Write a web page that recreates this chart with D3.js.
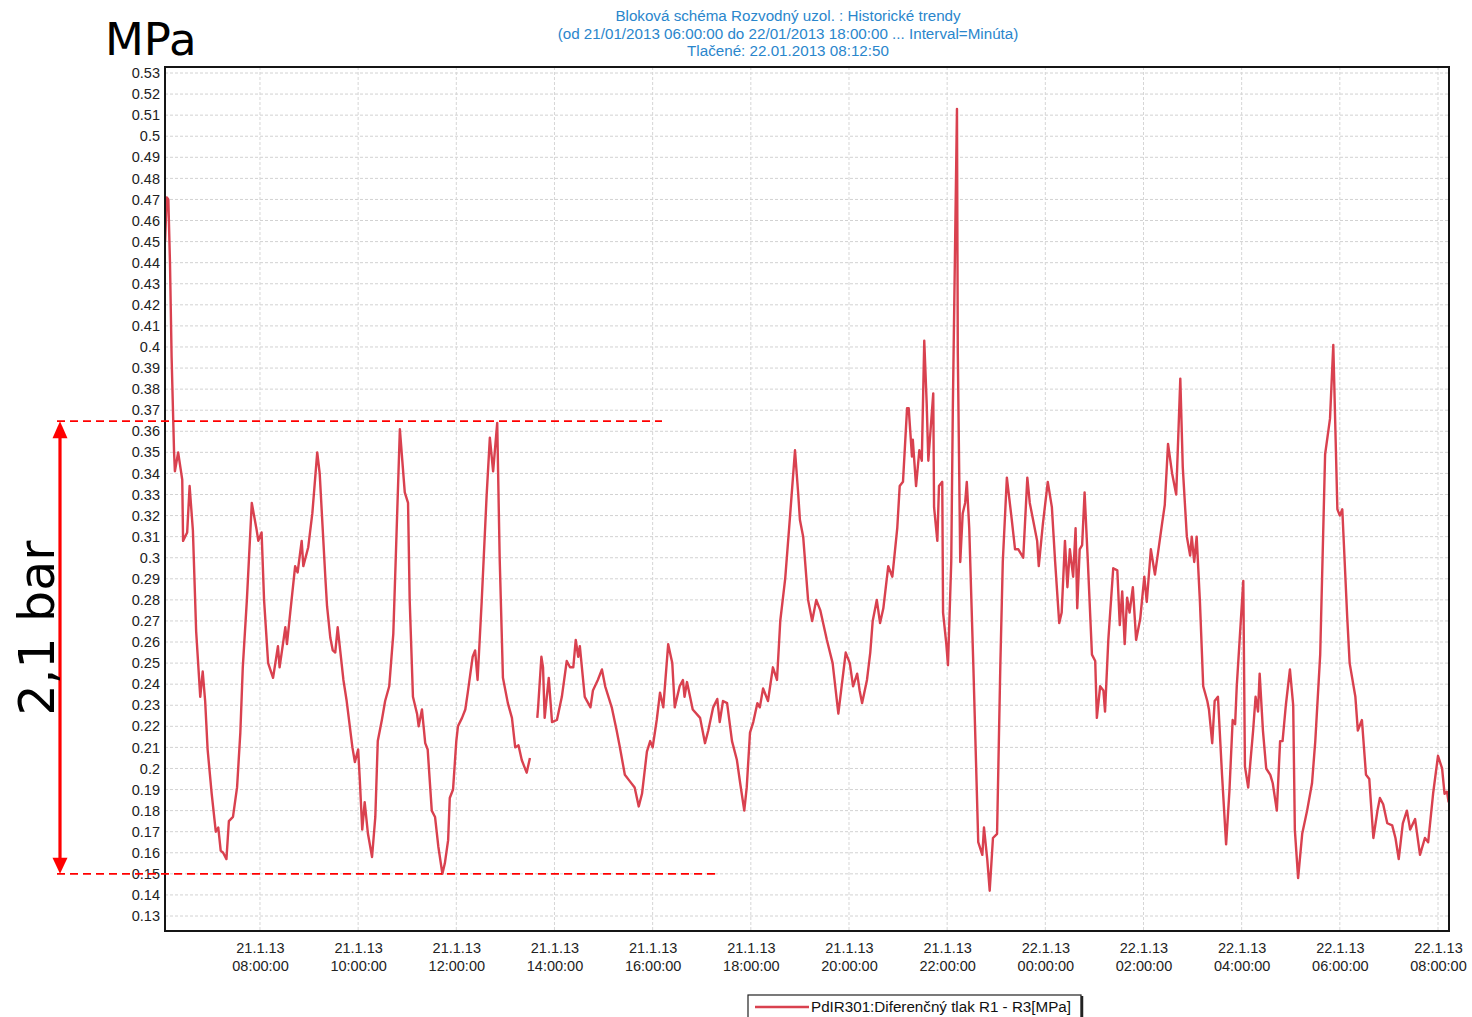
<!DOCTYPE html>
<html><head><meta charset="utf-8">
<script src="https://cdn.jsdelivr.net/npm/d3@7"></script>
<style>html,body{margin:0;padding:0;background:#fff;overflow:hidden}</style>
</head><body>
<svg id="c" width="1472" height="1017"></svg>
<script>
const titleLines = [
  "Bloková schéma Rozvodný uzol. : Historické trendy",
  "(od 21/01/2013 06:00:00 do 22/01/2013 18:00:00 ... Interval=Minúta)",
  "Tlačené: 22.01.2013 08:12:50"
];
const seriesName = "PdIR301:Diferenčný tlak R1 - R3[MPa]";
const unitLabel = "MPa";
const spanLabel = "2,1 bar";
const spanValues = [0.3648, 0.15];
const startTime = "2013-01-21T06:00:00";
// minutes after 21/01/2013 06:00
const minutes = [4,6,8,10,12,14,15,16,20,25,26,31,34,38,42,47,50,53,56,61,66,69,72,75,79,82,87,92,96,99,104,110,116,118,122,125,130,136,142,144,151,153,157,163,166,171,173,179,184,190,193,200,202,206,209,212,215,222,226,233,236,240,242,245,248,252,257,261,264,269,273,278,283,286,291,297,301,303,307,312,314,318,322,325,330,334,338,343,346,350,352,356,360,362,367,371,374,380,383,386,391,397,401,405,410,413,417,423,428,432,436,440,446,450,
454,
459,460,464,466,468,473,477,483,489,495,499,503,506,509,511,517,524,527,533,538,542,550,556,560,566,572,578,583,587,593,597,600,605,609,613,619,624,627,633,637,639,642,649,658,664,668,674,679,682,686,691,697,703,707,712,715,719,723,728,731,735,741,747,752,756,762,768,774,778,780,784,788,790,795,800,805,813,820,827,831,836,841,845,850,853,856,862,866,869,874,878,882,888,893,899,902,906,911,913,917,918,922,926,929,932,935,937,943,944,948,950,954,955,959,961,965,967,972,973,976,979,982,984,987,992,998,1003,1005,1009,1012,1016,1021,1025,1028,1033,1039,1043,1047,1053,1058,1061,1065,1070,1072,1077,1083,1088,1092,1097,1100,1104,1107,1110,1114,1117,1119,1122,1125,1128,1132,1137,1141,1143,1147,1151,1153,1157,1163,1168,1171,1174,1177,1180,1183,1187,1191,1196,1201,1204,1209,1214,1218,1223,1226,1230,1235,1240,1245,1248,1253,1257,1259,1262,1265,1269,1273,1278,1280,1284,1287,1291,1296,1301,1305,1309,1312,1314,1322,1324,1328,1334,1337,1340,1342,1346,1350,1355,1358,1363,1367,1370,1374,1379,1383,1385,1389,1394,1400,1406,1410,1416,1422,1428,1432,1437,1440,1443,1449,1452,1459,1462,1467,1472,1476,1481,1486,1489,1493,1498,1504,1508,1512,1517,1522,1526,1532,1538,1544,1548,1554,1560,1565,1568,1571,1573];
const values = [0.45,0.471,0.47,0.44,0.395,0.365,0.35,0.341,0.35,0.337,0.308,0.312,0.334,0.313,0.265,0.234,0.246,0.232,0.209,0.188,0.170,0.172,0.161,0.160,0.157,0.175,0.177,0.191,0.217,0.248,0.280,0.326,0.313,0.308,0.312,0.280,0.250,0.243,0.258,0.248,0.267,0.259,0.274,0.296,0.293,0.308,0.296,0.305,0.321,0.350,0.340,0.290,0.277,0.262,0.256,0.255,0.267,0.242,0.232,0.210,0.203,0.209,0.195,0.171,0.184,0.169,0.158,0.177,0.213,0.223,0.232,0.239,0.264,0.300,0.361,0.331,0.326,0.280,0.234,0.226,0.220,0.228,0.212,0.209,0.180,0.177,0.163,0.150,0.155,0.166,0.186,0.190,0.213,0.220,0.224,0.228,0.236,0.253,0.256,0.242,0.279,0.329,0.357,0.341,0.364,0.300,0.243,0.231,0.224,0.210,0.211,0.204,0.198,0.205,
null,
0.224,0.229,0.253,0.248,0.224,0.243,0.222,0.223,0.234,0.251,0.248,0.248,0.261,0.253,0.258,0.234,0.229,0.237,0.242,0.247,0.239,0.229,0.218,0.210,0.197,0.194,0.191,0.182,0.188,0.208,0.213,0.210,0.223,0.236,0.229,0.259,0.250,0.229,0.239,0.242,0.234,0.241,0.228,0.224,0.212,0.218,0.229,0.233,0.222,0.232,0.231,0.213,0.204,0.193,0.180,0.191,0.217,0.222,0.231,0.229,0.238,0.232,0.248,0.242,0.270,0.290,0.320,0.351,0.330,0.318,0.310,0.290,0.280,0.270,0.280,0.275,0.261,0.250,0.226,0.239,0.255,0.250,0.239,0.245,0.237,0.231,0.242,0.255,0.270,0.280,0.269,0.276,0.296,0.291,0.314,0.334,0.336,0.371,0.371,0.348,0.356,0.334,0.351,0.346,0.403,0.373,0.346,0.378,0.324,0.308,0.334,0.336,0.274,0.259,0.249,0.298,0.373,0.513,0.398,0.298,0.321,0.326,0.336,0.314,0.249,0.165,0.159,0.172,0.157,0.142,0.167,0.169,0.249,0.298,0.338,0.318,0.304,0.304,0.300,0.338,0.326,0.318,0.308,0.296,0.316,0.336,0.324,0.298,0.269,0.274,0.308,0.286,0.304,0.291,0.314,0.276,0.304,0.306,0.331,0.298,0.254,0.251,0.224,0.239,0.237,0.227,0.261,0.295,0.294,0.268,0.284,0.259,0.281,0.274,0.286,0.261,0.271,0.291,0.279,0.304,0.292,0.303,0.317,0.325,0.354,0.340,0.330,0.385,0.343,0.310,0.301,0.310,0.298,0.310,0.279,0.239,0.232,0.228,0.212,0.232,0.234,0.197,0.164,0.189,0.223,0.221,0.239,0.289,0.201,0.191,0.218,0.234,0.227,0.245,0.218,0.200,0.197,0.193,0.180,0.213,0.213,0.230,0.247,0.230,0.171,0.148,0.169,0.180,0.193,0.213,0.254,0.349,0.366,0.401,0.323,0.320,0.323,0.272,0.250,0.234,0.218,0.223,0.197,0.195,0.167,0.180,0.186,0.183,0.174,0.173,0.167,0.157,0.174,0.180,0.171,0.176,0.159,0.167,0.165,0.188,0.206,0.200,0.188,0.189,0.184];
const yTicks = [0.13,0.14,0.15,0.16,0.17,0.18,0.19,0.2,0.21,0.22,0.23,0.24,0.25,0.26,0.27,0.28,0.29,0.3,0.31,0.32,0.33,0.34,0.35,0.36,0.37,0.38,0.39,0.4,0.41,0.42,0.43,0.44,0.45,0.46,0.47,0.48,0.49,0.5,0.51,0.52,0.53];
// x tick positions, hours after start
const xTickHours = [2,4,6,8,10,12,14,16,18,20,22,24,26];

const svg = d3.select("#c");
const t0 = new Date(startTime);
const toDate = m => new Date(t0.getTime() + m * 60000);
const frame = {l: 165, r: 1449, t: 67, b: 931};

const x = d3.scaleTime().domain([t0, toDate(26 * 60)]).range([161.8, 1438]);
const y = d3.scaleLinear().domain([0.13, 0.53]).range([916, 73]);

svg.append("rect").attr("width", 1472).attr("height", 1017).attr("fill", "#fff");

// title
svg.append("g").selectAll("text").data(titleLines).join("text")
  .attr("x", 788).attr("y", (d, i) => 21 + i * 17.5)
  .attr("text-anchor", "middle")
  .attr("font-family", "Liberation Sans, Arial, sans-serif")
  .attr("font-size", 15.2).attr("fill", "#2a86cc")
  .text(d => d);

svg.append("defs").append("clipPath").attr("id", "clip")
  .append("rect").attr("x", frame.l).attr("y", frame.t)
  .attr("width", frame.r - frame.l).attr("height", frame.b - frame.t);

// gridlines
const grid = svg.append("g").attr("clip-path", "url(#clip)");
grid.selectAll("line.h").data(yTicks).join("line").attr("class", "h")
  .attr("x1", frame.l).attr("x2", frame.r)
  .attr("y1", d => y(d)).attr("y2", d => y(d))
  .attr("stroke", "#d2d2d2").attr("stroke-width", 1).attr("stroke-dasharray", "3,2");
const xTickDates = xTickHours.map(h => toDate(h * 60));
grid.selectAll("line.v").data(xTickDates).join("line").attr("class", "v")
  .attr("x1", d => x(d)).attr("x2", d => x(d))
  .attr("y1", frame.t).attr("y2", frame.b)
  .attr("stroke", "#d6d6d6").attr("stroke-width", 1).attr("stroke-dasharray", "3,2");

// y axis labels
const yAxis = d3.axisLeft(y).tickValues(yTicks).tickSize(0).tickPadding(4)
  .tickFormat(d => String(+d.toFixed(2)));
const ya = svg.append("g").attr("transform", `translate(${frame.l - 1},0)`).call(yAxis);
ya.select(".domain").remove();
ya.selectAll("text").attr("font-family", "Liberation Sans, Arial, sans-serif")
  .attr("font-size", 14.5).attr("fill", "#222");

// x axis labels
const xAxis = d3.axisBottom(x).tickValues(xTickDates).tickSize(0).tickFormat("");
const xa = svg.append("g").attr("transform", `translate(0,${frame.b})`).call(xAxis);
xa.select(".domain").remove();
const fDate = d3.timeFormat("%-d.%-m.%y"), fTime = d3.timeFormat("%H:%M:%S");
xa.selectAll(".tick").each(function(d) {
  const g = d3.select(this);
  g.select("text").remove();
  const tx = g.append("text").attr("text-anchor", "middle")
    .attr("font-family", "Liberation Sans, Arial, sans-serif")
    .attr("font-size", 14.5).attr("fill", "#222");
  tx.append("tspan").attr("x", 0).attr("y", 22).text(fDate(d));
  tx.append("tspan").attr("x", 0).attr("y", 40).text(fTime(d));
});

// series line
const data = minutes.map((m, i) => ({t: toDate(m), v: values[i]}));
const line = d3.line().defined(d => d.v !== null).x(d => x(d.t)).y(d => y(d.v));
svg.append("path").datum(data).attr("clip-path", "url(#clip)")
  .attr("d", line).attr("fill", "none")
  .attr("stroke", "#d9414f").attr("stroke-width", 2.4).attr("stroke-linejoin", "round");

// frame
svg.append("rect").attr("x", frame.l).attr("y", frame.t)
  .attr("width", frame.r - frame.l).attr("height", frame.b - frame.t)
  .attr("fill", "none").attr("stroke", "#151515").attr("stroke-width", 2);

// legend
const lg = svg.append("g");
lg.append("rect").attr("x", 748).attr("y", 995).attr("width", 333).attr("height", 30)
  .attr("fill", "#fff").attr("stroke", "#222").attr("stroke-width", 1.2);
lg.append("line").attr("x1", 1082).attr("x2", 1082).attr("y1", 996).attr("y2", 1017)
  .attr("stroke", "#222").attr("stroke-width", 2.5);
lg.append("line").attr("x1", 755).attr("x2", 809).attr("y1", 1007).attr("y2", 1007)
  .attr("stroke", "#d9414f").attr("stroke-width", 2.5);
lg.append("text").attr("x", 811).attr("y", 1012)
  .attr("font-family", "Liberation Sans, Arial, sans-serif").attr("font-size", 15.2)
  .attr("fill", "#111").text(seriesName);

// annotations
svg.append("text").attr("x", 105).attr("y", 55)
  .attr("font-family", "DejaVu Sans, sans-serif").attr("font-size", 45)
  .attr("fill", "#000").text(unitLabel);

const ann = svg.append("g");
const dashEnds = [662, 720];
ann.selectAll("line.d").data(spanValues).join("line").attr("class", "d")
  .attr("x1", 57).attr("x2", (d, i) => dashEnds[i])
  .attr("y1", d => y(d)).attr("y2", d => y(d))
  .attr("stroke", "#ff0000").attr("stroke-width", 1.8).attr("stroke-dasharray", "8,5");
const yTop = y(spanValues[0]), yBot = y(spanValues[1]);
ann.append("line").attr("x1", 60).attr("x2", 60).attr("y1", yTop + 12).attr("y2", yBot - 12)
  .attr("stroke", "#ff0000").attr("stroke-width", 3.2);
ann.append("path").attr("d", `M60,${yTop} L67.5,${yTop + 17} L52.5,${yTop + 17} Z`).attr("fill", "#ff0000");
ann.append("path").attr("d", `M60,${yBot} L67.5,${yBot - 16} L52.5,${yBot - 16} Z`).attr("fill", "#ff0000");
ann.append("text").attr("transform", `translate(54,628) rotate(-90)`)
  .attr("text-anchor", "middle")
  .attr("font-family", "DejaVu Sans, sans-serif").attr("font-size", 49)
  .attr("fill", "#000").text(spanLabel);
</script>
</body></html>
